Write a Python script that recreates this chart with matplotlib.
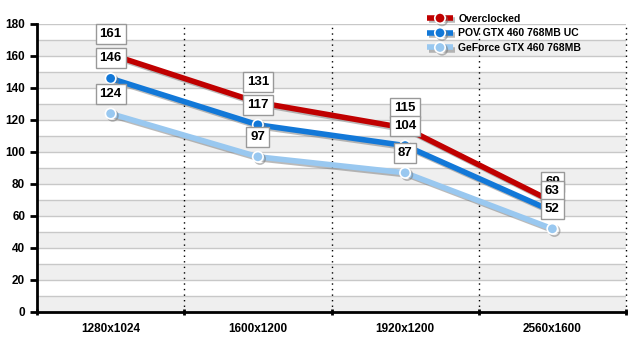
import matplotlib.pyplot as plt
import matplotlib.patheffects as pe
import numpy as np

plt.rcParams['font.family'] = ['Liberation Sans', 'DejaVu Sans']

resolutions = ["1280x1024", "1600x1200", "1920x1200", "2560x1600"]
series_names = ["Overclocked", "POV GTX 460 768MB UC", "GeForce GTX 460 768MB"]
overclocked = [161, 131, 115, 69]
pov_uc = [146, 117, 104, 63]
geforce = [124, 97, 87, 52]
colors = ["#c00000", "#1278d8", "#99c8f0"]

fig = plt.figure(figsize=(6.34, 3.39), dpi=100)
ax = fig.add_axes([37 / 634, 27 / 339, 589 / 634, 288 / 339])

x = np.arange(len(resolutions))
ax.set_xlim(-0.5, len(resolutions) - 0.5)
ax.set_ylim(0, 180)

# alternating bands + gridlines
for lo in range(0, 180, 20):
    ax.axhspan(lo, lo + 10, color="#efefef", zorder=0, lw=0)
for y in range(10, 181, 10):
    ax.axhline(y, color="#c8c8c8", lw=1, zorder=1)
for b in np.arange(0.5, len(resolutions), 1):
    ax.axvline(b, color="black", lw=1, ls=(0, (1, 3)), zorder=1, clip_on=False)

shadow = [pe.SimpleLineShadow(offset=(1.5, -1.5), shadow_color="#777777", alpha=0.5), pe.Normal()]
for vals, name, c in zip([overclocked, pov_uc, geforce], series_names, colors):
    ax.plot(x, vals, color=c, lw=4, marker="o", ms=7.5, mfc=c, mec="white", mew=1.2,
            label=name, zorder=3, path_effects=shadow, solid_capstyle="butt")
    for xi, v in zip(x, vals):
        ax.annotate(str(v), (xi, v), xytext=(0, 20), textcoords="offset pixels",
                    ha="center", va="center", fontsize=9.5, fontweight="bold", zorder=5,
                    bbox=dict(boxstyle="square,pad=0.3", fc="white", ec="#999999", lw=1))

ax.set_xticks(np.arange(-0.5, len(resolutions), 1))
ax.set_xticklabels([])
ax.set_xticks(x, minor=True)
ax.set_xticklabels(resolutions, minor=True, fontsize=8.5, fontweight="bold")
ax.tick_params(axis="x", which="minor", length=0, pad=8)
ax.tick_params(axis="x", which="major", length=4, width=2, direction="inout")
ax.set_yticks(range(0, 181, 20))
ax.set_yticklabels([str(v) for v in range(0, 181, 20)], fontsize=8.5, fontweight="bold")
ax.tick_params(axis="y", length=5, width=2)

for s in ["top", "right"]:
    ax.spines[s].set_visible(False)
ax.spines["left"].set_linewidth(2)
ax.spines["bottom"].set_linewidth(2)

leg = ax.legend(loc="upper left", bbox_to_anchor=(0.655, 1.05), frameon=False,
                prop=dict(size=7.5, weight="bold"), handlelength=2.5, handletextpad=0.5,
                labelspacing=0.45, borderaxespad=0)

fig.savefig("out.png", dpi=100)
